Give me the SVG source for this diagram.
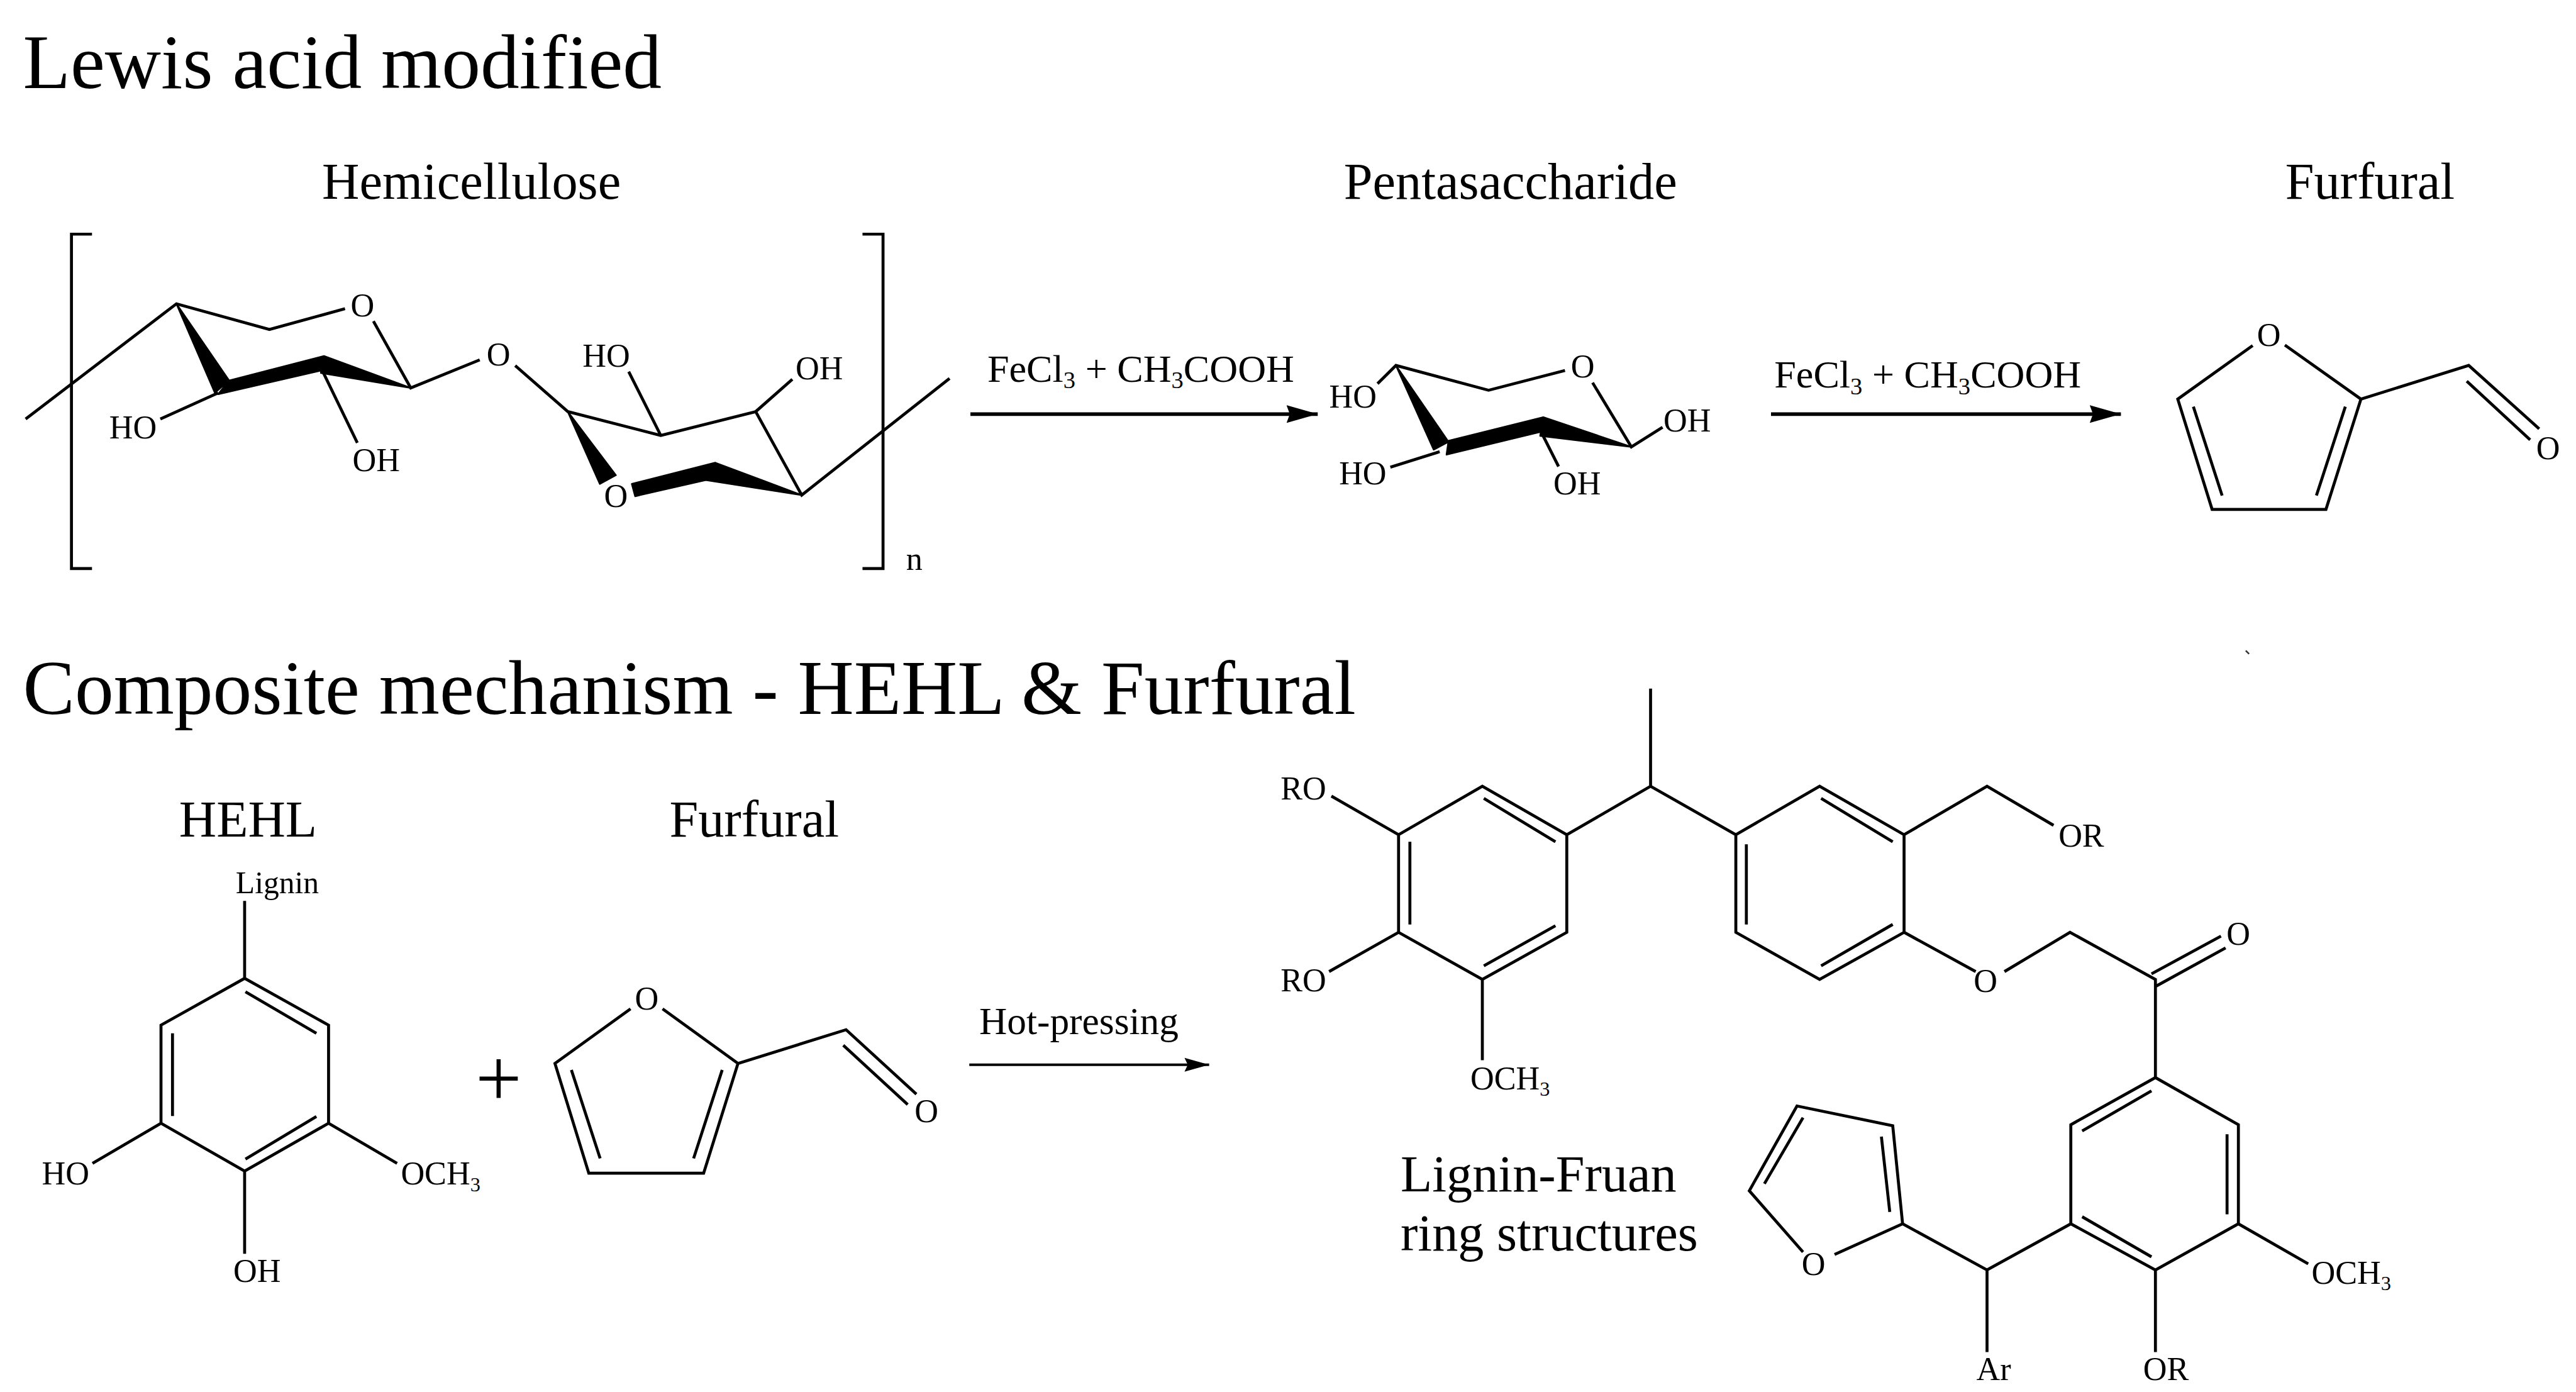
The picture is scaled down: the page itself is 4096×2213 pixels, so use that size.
<svg xmlns="http://www.w3.org/2000/svg" width="4096" height="2213" viewBox="0 0 4096 2213">
<style>
text{font-family:"Liberation Serif","Times New Roman",serif;fill:#000}
.h{font-size:47.300px}
.t{font-size:31.500px}
.r{font-size:23.800px}
.a{font-size:20px}
.m{text-anchor:middle}
.s{font-size:.62em}
.b{fill:none;stroke:#000;stroke-width:1.8;stroke-linejoin:miter;stroke-linecap:butt}
.v{fill:#000;stroke:#000;stroke-width:1;stroke-linejoin:round}
.br{fill:none;stroke:#000;stroke-width:1.8}
.c1{stroke:#000;stroke-width:2.2;fill:none}
.c2{stroke:#000;stroke-width:1.5;fill:none}
</style>
<defs>
<marker id="ah" markerUnits="userSpaceOnUse" markerWidth="20" markerHeight="12" refX="19" refY="6" orient="auto" viewBox="0 0 20 12"><path d="M0 .6L19 6L0 11.4L2 6Z" fill="#000"/></marker>
<marker id="ah2" markerUnits="userSpaceOnUse" markerWidth="16" markerHeight="10" refX="15" refY="5" orient="auto" viewBox="0 0 16 10"><path d="M0 .8L15 5L0 9.2L2 5Z" fill="#000"/></marker>
</defs>
<rect width="4096" height="2213" fill="#fff"/>
<g transform="scale(2.61224)">
<g id="title-lewis"><text class="h" x="14" y="53.500">Lewis acid modified</text></g>
<g id="title-composite"><text class="h" x="14" y="434.500">Composite mechanism - HEHL &amp; Furfural</text></g>
<g id="label-hemicellulose"><text class="t" x="196" y="121">Hemicellulose</text></g>
<g id="label-pentasaccharide"><text class="t" x="818" y="121">Pentasaccharide</text></g>
<g id="label-furfural-top"><text class="t" x="1391" y="121">Furfural</text></g>
<g id="label-hehl"><text class="t" x="109" y="509">HEHL</text></g>
<g id="label-furfural-bottom"><text class="t" x="407.500" y="509">Furfural</text></g>

<g id="hemicellulose">
<path class="br" d="M56 142.500H43.500V346H56M525 142.500H537.500V346H525"/>
<path class="b" d="M15.600 255L107.400 184.900L164 200.500L210 187.900M227.300 195.500L250 236.100L292 219M313.600 222.500L345.600 250.500L402.200 265L460 250.500L488 301.300L578 230.300M97.600 255L132.800 239.100M194 221L217.500 269.500M382.700 226.200L402.200 265M482.300 230.800L460 250.500"/>
<path class="v" d="M107.400 184.900L139.400 231.500L130.800 239.100ZM139.400 231.600L197.200 216.700L195.300 225.500L132.800 239.900ZM197.200 216.700L250 236.100L195.300 227ZM345.600 250.500L374.900 289.200L365.100 294.500ZM384.600 294.500L435.400 281.600L429.600 292.200L386.600 302ZM435.400 281.600L488 301.300L429.600 292.200Z"/>
<text class="a m" x="220.600" y="192.600">O</text><text class="a m" x="303.400" y="222.400">O</text><text class="a m" x="369" y="223.200">HO</text><text class="a m" x="498.700" y="230.800">OH</text><text class="a m" x="81" y="266.800">HO</text><text class="a m" x="229" y="286.800">OH</text><text class="a m" x="374.900" y="308.500">O</text><text class="a m" x="556.500" y="347">n</text>
</g>

<g id="pentasaccharide">
<path class="b" d="M838.500 233.500L849.700 222.400L906.100 237.500L952.600 225.500M969.400 232.900L993 272L1012 260M937.500 261.700L948.700 283.900M846.300 284.300L876.300 274.900"/>
<path class="v" d="M849.700 222.400L881.700 268.900L872.700 273.700ZM881.700 268.300L939.400 253.900L937.500 262.900L880.500 276.700ZM939.400 253.900L993 272L937.500 265.300Z"/>
<text class="a m" x="963.400" y="229.800">O</text><text class="a m" x="823.500" y="247.900">HO</text><text class="a m" x="829.500" y="294.900">HO</text><text class="a m" x="960" y="300.800">OH</text><text class="a m" x="1027" y="262.800">OH</text>
</g>

<g id="furfural-top">
<path class="b" d="M1371.200 210.300L1325.600 242.900L1346.500 310H1415.800L1437.100 242.900L1390.800 210M1335.100 247.500L1352.600 301.600M1427.600 247.500L1410 301.600M1437.100 242.900L1502.700 222.400L1545.600 261M1501.500 232L1540.100 267.700"/>
<text class="a m" x="1381" y="210.400">O</text><text class="a m" x="1551" y="279.400">O</text>
</g>

<g id="hehl">
<path class="b" d="M148.900 548.300V595.400L200 623.900V683.600L148.900 712.700L98 683.600V623.900L148.900 595.400M149.400 603.600L192.600 628.900M105 628.900V679.200M192.600 679.500L149.400 705.400M98 683.600L56.300 708M200 683.600L241.700 708M148.900 712.700V763"/>
<text class="a" style="font-size:19px" x="143.500" y="543.500">Lignin</text>
<text class="a" x="25.500" y="721">HO</text>
<text class="a" x="244" y="721">OCH<tspan class="s" dy="4">3</tspan></text>
<text class="a" x="142" y="780">OH</text>
</g>

<g id="plus"><text x="303.500" y="673" class="m" style="font-size:50px">+</text></g>

<g id="furfural-bottom">
<path class="b" d="M383.800 614L337.800 647.200L358.400 714H428.300L449.200 647.200L403.300 614M347.800 651.200L365.300 705M439.600 651.200L422.200 705M449.200 647.200L515 626.700L557.800 665.900M513.300 636.100L552.500 672.200"/>
<text class="a m" x="393.700" y="614.300">O</text><text class="a m" x="563.900" y="682.900">O</text>
</g>

<g id="lignin-furan">
<path class="b" d="M1004.700 419.100V478.500L953.700 508L902.300 478.500L851.300 508V567.400L902.300 596.100L953.700 567.400V508M1004.700 478.500L1056.600 508L1107.600 478.500L1159 508V567.400L1107.600 596.100L1056.600 567.400V508M903.200 485.900L946.800 512.300M858.200 512.300V562.600M946.800 563.400L903.200 587.800M1108.500 485.900L1152.100 512.300M1063 513.800V562.600M1152.100 562.600L1108.500 587.800M851.300 508L810.400 484.500M851.300 567.400L809 591.300M902.300 596.100V645.200M1159 508L1209.500 478.500L1250 502.300M1159 567.400L1202.600 591.300M1220.100 591.300L1260 567.400L1312 596.100V655.800M1309.600 592.700L1351.900 569.700M1312 600.400L1354.700 576.900M1312 655.800L1362.500 684.500V744.800L1312 772.900L1260.500 744.800V684.500L1312 655.800M1309.600 663.900L1267.400 688.300M1355.600 690.300V739M1267.400 740.500L1309.600 764.900M1362.500 744.800L1405 769.200M1312 772.900V822.900M1260.500 744.800L1209.500 772.900V822.900M1209.500 772.900L1158.100 744.800L1152.100 685.100L1093.800 673.100L1064.800 724.700L1097.500 762M1116.700 763.500L1158.100 744.800M1145.200 691.700L1150.300 737.600M1097.500 680.200L1074 720.400"/>
<text class="a" x="779.500" y="486.500">RO</text><text class="a" x="779.500" y="603.300">RO</text>
<text class="a" x="895" y="663">OCH<tspan class="s" dy="4">3</tspan></text>
<text class="a" x="1253" y="515.200">OR</text>
<text class="a m" x="1208.600" y="603.800">O</text><text class="a m" x="1362.500" y="575.100">O</text><text class="a m" x="1103.900" y="776">O</text>
<text class="a" x="1407" y="781.300">OCH<tspan class="s" dy="4">3</tspan></text>
<text class="a" x="1304.500" y="840">OR</text><text class="a" x="1203" y="840">Ar</text>
</g>

<g id="label-lignin-furan"><text style="font-size:31.500px" x="852.500" y="725">Lignin-Fruan</text><text style="font-size:31.500px" x="852.500" y="761">ring structures</text></g>

<g id="connectors">
<line class="c1" x1="590.700" y1="252" x2="802.100" y2="252" marker-end="url(#ah)"/>
<line class="c1" x1="1078" y1="252" x2="1291" y2="252" marker-end="url(#ah)"/>
<line class="c2" x1="590" y1="648" x2="736" y2="648" marker-end="url(#ah2)"/>
<text class="r" x="601" y="232.300">FeCl<tspan class="s" dy="4">3</tspan><tspan dy="-4"> + CH</tspan><tspan class="s" dy="4">3</tspan><tspan dy="-4">COOH</tspan></text>
<text class="r" x="1080" y="236">FeCl<tspan class="s" dy="4">3</tspan><tspan dy="-4"> + CH</tspan><tspan class="s" dy="4">3</tspan><tspan dy="-4">COOH</tspan></text>
<text class="r" style="font-size:23.500px" x="596" y="629.500">Hot-pressing</text>
</g>
<path d="M1367 396l2 2" stroke="#333" stroke-width="1" fill="none"/>
</g>
</svg>
